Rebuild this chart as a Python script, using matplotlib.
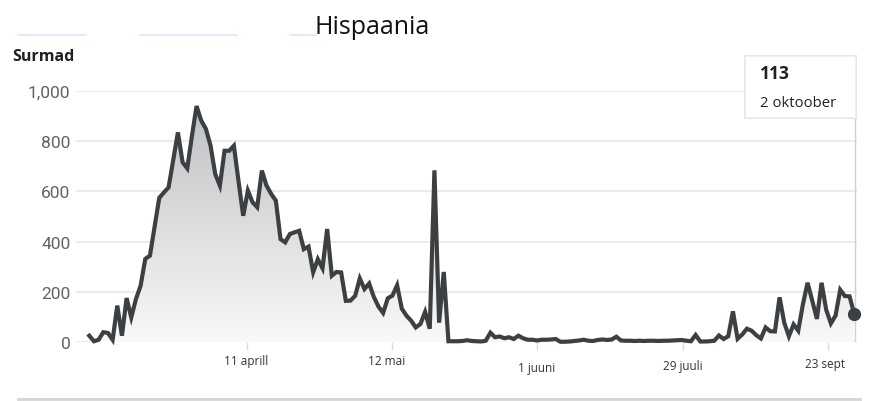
import numpy as np
import matplotlib
matplotlib.use("Agg")
import matplotlib.pyplot as plt
from matplotlib.colors import LinearSegmentedColormap
from matplotlib.patches import PathPatch, Rectangle
from matplotlib.lines import Line2D
from matplotlib.transforms import ScaledTranslation

# daily deaths, one value per reported day
deaths = [25, 3, 9, 39, 36, 9, 145, 25, 175, 98,
          171, 224, 331, 344, 460, 574, 596, 616, 725, 835,
          716, 692, 820, 940, 882, 849, 782, 669, 623, 762,
          762, 782, 640, 503, 603, 557, 537, 683, 623, 590,
          563, 410, 397, 430, 437, 443, 370, 380, 278, 330,
          294, 450, 264, 279, 277, 164, 165, 184, 253, 211,
          233, 180, 141, 116, 174, 185, 226, 133, 105, 85,
          58, 72, 120, 53, 684, 77, 279, 3, 3, 3,
          4, 7, 4, 3, 2, 5, 37, 19, 22, 15,
          19, 12, 25, 15, 9, 9, 6, 9, 9, 10,
          12, 1, 1, 2, 4, 6, 9, 5, 4, 8,
          10, 8, 10, 21, 6, 5, 5, 4, 5, 4,
          5, 5, 4, 5, 5, 6, 7, 8, 5, 3,
          28, 2, 2, 3, 5, 26, 12, 23, 122, 13,
          30, 53, 45, 27, 14, 58, 43, 42, 178, 77,
          23, 70, 45, 150, 236, 165, 92, 236, 128, 74,
          105, 208, 183, 182, 113]

tick_pos = [33.8, 64.9, 96.0, 127.2, 158.4]
tick_labels = ["11 aprill", "12 mai", "1 juuni", "29 juuli", "23 sept"]
y_ticks = [0, 200, 400, 600, 800, 1000]
y_labels = ["0", "200", "400", "600", "800", "1,000"]

x = np.arange(len(deaths))
y = np.array(deaths)

line_col = "#3c4043"

fig = plt.figure(figsize=(8.7, 4.02), dpi=100)
fig.patch.set_facecolor("white")
ax = fig.add_axes([76 / 870, 59 / 402, 781 / 870, 251 / 402])

ax.set_xlim(-2.85, 164.6)
ax.set_ylim(0, 1000)

# gradient fill under the line
cmap = LinearSegmentedColormap.from_list("g", ["#f9f9f9", "#bcbdbf"])
grad = np.linspace(0, 1, 256).reshape(-1, 1)
poly = ax.fill_between(x, y, 0, facecolor="none", edgecolor="none")
clip = PathPatch(poly.get_paths()[0], transform=ax.transData,
                 facecolor="none", edgecolor="none")
ax.add_patch(clip)
im = ax.imshow(grad, extent=[x[0], x[-1], 0, 1000], origin="lower",
               aspect="auto", cmap=cmap, zorder=1)
im.set_clip_path(clip)

ax.plot(x, y, color=line_col, lw=3.0, solid_joinstyle="miter",
        zorder=3, clip_on=False)
ax.plot(x[-1], y[-1], "o", color=line_col, ms=8.5, zorder=4, clip_on=False)

# grid
for v in y_ticks:
    ax.axhline(v, color="#e6e6e6", lw=1.1, zorder=0)
for s in ax.spines.values():
    s.set_visible(False)

ax.set_yticks(y_ticks)
ax.set_yticklabels(y_labels, fontsize=12.5, color="#5f6368", family="Roboto")
ax.tick_params(axis="y", length=0, pad=4)

ax.set_xticks(tick_pos)
ax.set_xticklabels(tick_labels, fontsize=8.5, color="#333333", family="Open Sans")
ax.tick_params(axis="x", length=6, width=1, color="#dddddd", pad=3)
offs = [(-1, 0), (-5, 0), (0, 7), (0, 5), (-3, 3)]
for lab, (dx, dy) in zip(ax.get_xticklabels(), offs):
    lab.set_transform(lab.get_transform() +
                      ScaledTranslation(dx / 100, -dy / 100, fig.dpi_scale_trans))

# vertical hover line
ax.axvline(164.1, ymin=0, ymax=(343 - 118) / 251, color="#d0d0d0", lw=1, zorder=2)

# texts
fig.text(372 / 870, 1 - 28 / 402, "Hispaania", ha="center", va="center",
         fontsize=18, family="Open Sans", color="#111111")
fig.text(12 / 870, 1 - 57 / 402, "Surmad", ha="left", va="center",
         fontsize=11.5, family="Open Sans", weight="bold", color="#202124")

# faint tab lines at top
for a, b in [(18, 86), (140, 237), (290, 316)]:
    fig.add_artist(Line2D([a / 870, b / 870], [1 - 36 / 402] * 2,
                          color="#dce6f7", lw=1.2))
# bottom separator
fig.add_artist(Line2D([18 / 870, 860 / 870], [1 - 400 / 402] * 2,
                      color="#d5d5d5", lw=2))

# tooltip
bx, by, bw, bh = 745, 57, 110, 61
fig.add_artist(Rectangle(((bx - 1) / 870, 1 - (by + bh + 2) / 402),
                         (bw + 3) / 870, (bh + 3) / 402,
                         facecolor="#e6e6e6", edgecolor="none", zorder=5))
fig.add_artist(Rectangle((bx / 870, 1 - (by + bh) / 402), bw / 870, bh / 402,
                         facecolor="white", edgecolor="#f0f0f0", lw=0.8, zorder=6))
fig.text(760 / 870, 1 - 74 / 402, "113", ha="left", va="center", fontsize=12.5,
         weight="bold", family="Open Sans", color="#202124", zorder=7)
fig.text(760 / 870, 1 - 104 / 402, "2 oktoober", ha="left", va="center",
         fontsize=10.7, family="Open Sans", color="#202124", zorder=7)

fig.savefig("out.png", dpi=100)
